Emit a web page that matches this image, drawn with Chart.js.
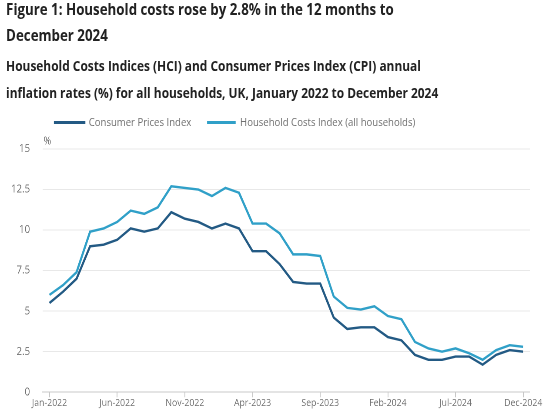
<!DOCTYPE html>
<html>
<head>
<meta charset="utf-8">
<script src="https://cdn.jsdelivr.net/npm/chart.js@4"></script>
<style>
  html, body { margin: 0; padding: 0; background: #fff; }
  body { width: 550px; height: 416px; position: relative; overflow: hidden; font-family: "Open Sans", sans-serif; }
  .sx { position: absolute; left: 0; top: 0; width: 632px; height: 416px; transform: scaleX(0.87); transform-origin: 0 0; }
  .t1 { position: absolute; left: 7px; font-weight: 700; font-size: 15.3px; color: #222; white-space: nowrap; }
  .t2 { position: absolute; left: 7px; font-weight: 700; font-size: 13.7px; color: #222; white-space: nowrap; }
  .lgline { position: absolute; height: 3px; top: 121px; }
  .lgtxt { position: absolute; top: 114px; font-size: 11px; color: #707070; white-space: nowrap; line-height: 16px; }
  #c { position: absolute; left: 0; top: 110px; }
</style>
</head>
<body>
<div class="sx">
  <div class="t1" style="top:-1px">Figure 1: Household costs rose by 2.8% in the 12 months to</div>
  <div class="t1" style="top:25px">December 2024</div>
  <div class="t2" style="top:56px">Household Costs Indices (HCI) and Consumer Prices Index (CPI) annual</div>
  <div class="t2" style="top:83px">inflation rates (%) for all households, UK, January 2022 to December 2024</div>
  <div class="lgline" style="left:62px;width:36px;background:#235a84"></div>
  <div class="lgtxt" style="left:102px">Consumer Prices Index</div>
  <div class="lgline" style="left:238px;width:33px;background:#30a0c8"></div>
  <div class="lgtxt" style="left:276px">Household Costs Index (all households)</div>
  <canvas id="c" width="632" height="306"></canvas>
</div>
<script>
const months = [
  "Jan-2022","Feb-2022","Mar-2022","Apr-2022","May-2022","Jun-2022","Jul-2022","Aug-2022","Sep-2022","Oct-2022","Nov-2022","Dec-2022",
  "Jan-2023","Feb-2023","Mar-2023","Apr-2023","May-2023","Jun-2023","Jul-2023","Aug-2023","Sep-2023","Oct-2023","Nov-2023","Dec-2023",
  "Jan-2024","Feb-2024","Mar-2024","Apr-2024","May-2024","Jun-2024","Jul-2024","Aug-2024","Sep-2024","Oct-2024","Nov-2024","Dec-2024"
];
const cpi = [5.5,6.2,7.0,9.0,9.1,9.4,10.1,9.9,10.1,11.1,10.7,10.5,
             10.1,10.4,10.1,8.7,8.7,7.9,6.8,6.7,6.7,4.6,3.9,4.0,
             4.0,3.4,3.2,2.3,2.0,2.0,2.2,2.2,1.7,2.3,2.6,2.5];
const hci = [6.0,6.6,7.4,9.9,10.1,10.5,11.2,11.0,11.4,12.7,12.6,12.5,
             12.1,12.6,12.3,10.4,10.4,9.8,8.5,8.5,8.4,5.9,5.2,5.1,
             5.3,4.7,4.5,3.1,2.7,2.5,2.7,2.4,2.0,2.6,2.9,2.8];
const yTicks = [0, 2.5, 5, 7.5, 10, 12.5, 15];
const unitLabel = "%";

const unitPlugin = {
  id: 'unitLabel',
  afterDraw(chart) {
    const c = chart.ctx, y = chart.scales.y;
    c.save();
    c.font = '400 10.5px "Open Sans"';
    c.fillStyle = '#707070';
    c.textAlign = 'left';
    c.textBaseline = 'bottom';
    c.fillText(unitLabel, chart.chartArea.left + 1, y.getPixelForValue(15) - 2);
    c.restore();
  }
};

new Chart(document.getElementById('c'), {
  type: 'line',
  data: {
    labels: months,
    datasets: [
      { label: 'Consumer Prices Index', data: cpi, borderColor: '#235a84', backgroundColor: '#235a84', borderWidth: 2.4, pointRadius: 0, tension: 0 },
      { label: 'Household Costs Index (all households)', data: hci, borderColor: '#30a0c8', backgroundColor: '#30a0c8', borderWidth: 2.4, pointRadius: 0, tension: 0 }
    ]
  },
  plugins: [unitPlugin],
  options: {
    responsive: false, animation: false, devicePixelRatio: 2,
    layout: { padding: { left: 12.7, right: 22.8, top: 39, bottom: 6.8 } },
    plugins: { legend: { display: false }, tooltip: { enabled: false } },
    scales: {
      x: {
        offset: true,
        grid: { offset: false, drawOnChartArea: false, drawTicks: true, tickLength: 5, color: '#c8c8c8' },
        border: { color: '#c8c8c8' },
        ticks: { autoSkip: false, maxRotation: 0, color: '#707070', font: { family: 'Open Sans', size: 10 }, padding: 0,
          callback: function(v, i) { return i % 5 === 0 ? months[i] : null; } }
      },
      y: {
        min: 0, max: 15,
        afterBuildTicks: function(s){ s.ticks = yTicks.map(v => ({ value: v })); },
        afterFit: function(s){ s.width = 36.4; },
        grid: { drawTicks: false, color: '#e8e8e8' },
        border: { display: false },
        ticks: { color: '#707070', font: { family: 'Open Sans', size: 11 }, padding: 14.6 }
      }
    }
  }
});
</script>
</body>
</html>
